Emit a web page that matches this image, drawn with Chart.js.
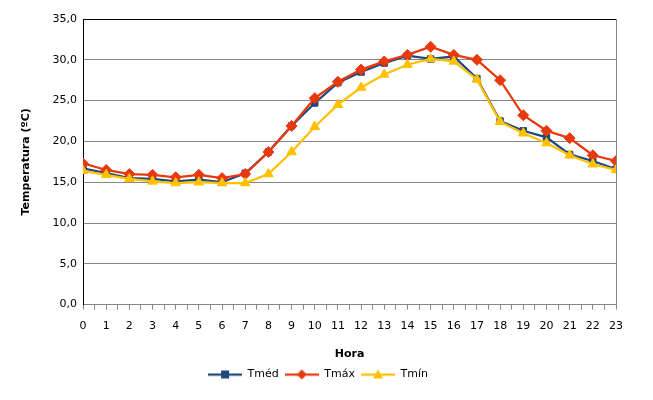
<!DOCTYPE html>
<html>
<head>
<meta charset="utf-8">
<script src="https://cdn.jsdelivr.net/npm/chart.js@4.4.1/dist/chart.umd.min.js"></script>
<style>
  html, body { margin: 0; padding: 0; background: #fff; }
  #wrap { width: 653px; height: 400px; }
</style>
</head>
<body>
<div id="wrap"><canvas id="myChart" width="653" height="400"></canvas></div>
<script>
// hourly temperatures
const horas = [0, 1, 2, 3, 4, 5, 6, 7, 8, 9, 10, 11, 12, 13, 14, 15, 16, 17, 18, 19, 20, 21, 22, 23];
const tMed = [16.7, 16.1, 15.5, 15.4, 15.1, 15.3, 15.0, 16.1, 18.7, 21.9, 24.7, 27.2, 28.5, 29.6, 30.5, 30.1, 30.4, 27.7, 22.5, 21.3, 20.5, 18.4, 17.6, 16.6];
const tMax = [17.3, 16.5, 16.0, 15.9, 15.6, 15.9, 15.5, 16.0, 18.7, 21.9, 25.3, 27.3, 28.8, 29.8, 30.6, 31.6, 30.6, 30.0, 27.5, 23.2, 21.3, 20.4, 18.3, 17.6];
const tMin = [16.4, 15.9, 15.4, 15.1, 14.9, 15.0, 14.9, 14.9, 16.0, 18.7, 21.8, 24.5, 26.6, 28.2, 29.4, 30.1, 29.8, 27.6, 22.4, 21.0, 19.8, 18.3, 17.2, 16.5];
const yTicks = [0, 5, 10, 15, 20, 25, 30, 35];

const fontFam = "'DejaVu Sans', Tahoma, sans-serif";
const gridGray = "#868686";

function pts(arr) {
  return arr.map((v, i) => ({ x: horas[i], y: v }));
}

// legend swatch: a short line with the marker in the middle
function swatch(color, style) {
  const c = document.createElement("canvas");
  c.width = 34; c.height = 12;
  const g = c.getContext("2d");
  g.strokeStyle = color; g.fillStyle = color; g.lineWidth = 2.25;
  g.beginPath(); g.moveTo(0, 6); g.lineTo(34, 6); g.stroke();
  g.beginPath();
  if (style === "rect") {
    g.rect(13, 2, 8, 8);
  } else if (style === "rectRot") {
    g.moveTo(17, 1); g.lineTo(22, 6); g.lineTo(17, 11); g.lineTo(12, 6); g.closePath();
  } else {
    g.moveTo(17, 1); g.lineTo(22, 10); g.lineTo(12, 10); g.closePath();
  }
  g.fill();
  return c;
}

const series = [
  { label: "Tméd", data: tMed, color: "#1F497D", style: "rect", radius: 4.5, order: 3 },
  { label: "Tmáx", data: tMax, color: "#E8380D", style: "rectRot", radius: 5.5, order: 2 },
  { label: "Tmín", data: tMin, color: "#FFC000", style: "triangle", radius: 5.5, order: 1 }
];

new Chart("myChart", {
  type: "line",
  data: {
    datasets: series.map(s => ({
      label: s.label,
      data: pts(s.data),
      borderColor: s.color,
      backgroundColor: s.color,
      borderWidth: 2.25,
      pointStyle: s.style,
      pointRadius: s.radius,
      pointBorderWidth: 1,
      order: s.order,
      tension: 0
    }))
  },
  options: {
    responsive: false,
    animation: false,
    layout: { padding: { left: 20, right: 37, top: 19, bottom: 10 } },
    plugins: {
      tooltip: { enabled: false },
      legend: {
        position: "bottom",
        labels: {
          usePointStyle: true,
          pointStyleWidth: 34,
          boxHeight: 12,
          padding: 6,
          color: "#000",
          font: { family: fontFam, size: 11 },
          generateLabels: () => series.map((s, i) => ({
            text: s.label,
            pointStyle: swatch(s.color, s.style),
            fillStyle: s.color,
            strokeStyle: s.color,
            lineWidth: 0,
            datasetIndex: i,
            fontColor: "#000"
          }))
        }
      }
    },
    scales: {
      x: {
        type: "linear",
        min: 0,
        max: 23,
        afterBuildTicks: ax => { ax.ticks = []; for (let i = 0; i <= 46; i++) ax.ticks.push({ value: i / 2 }); },
        ticks: {
          autoSkip: false,
          maxRotation: 0,
          color: "#000",
          padding: 10,
          font: { family: fontFam, size: 11 },
          callback: v => (Number.isInteger(v) ? String(v) : "")
        },
        grid: {
          drawOnChartArea: true,
          color: ctx => (ctx.tick && ctx.tick.value === 23 ? gridGray : "rgba(0,0,0,0)"),
          tickColor: gridGray,
          tickLength: 5
        },
        border: { color: gridGray, width: 1 },
        title: {
          display: true,
          text: "Hora",
          color: "#000",
          font: { family: fontFam, size: 11, weight: "bold" },
          padding: { top: 5, bottom: 2 }
        }
      },
      y: {
        min: 0,
        max: 35,
        afterBuildTicks: ax => { ax.ticks = yTicks.map(v => ({ value: v })); },
        afterFit: ax => { ax.width = 63; },
        ticks: {
          color: "#000",
          padding: 6,
          font: { family: fontFam, size: 11 },
          callback: v => v.toFixed(1).replace(".", ",")
        },
        grid: {
          color: ctx => (ctx.tick && ctx.tick.value === 35 ? "#000" : gridGray),
          drawTicks: false,
          lineWidth: 1
        },
        border: { color: "#000", width: 1 },
        title: {
          display: true,
          text: "Temperatura (ºC)",
          color: "#000",
          font: { family: fontFam, size: 11, weight: "bold" },
          padding: { top: 0, bottom: 6 }
        }
      }
    }
  }
});
</script>
</body>
</html>
